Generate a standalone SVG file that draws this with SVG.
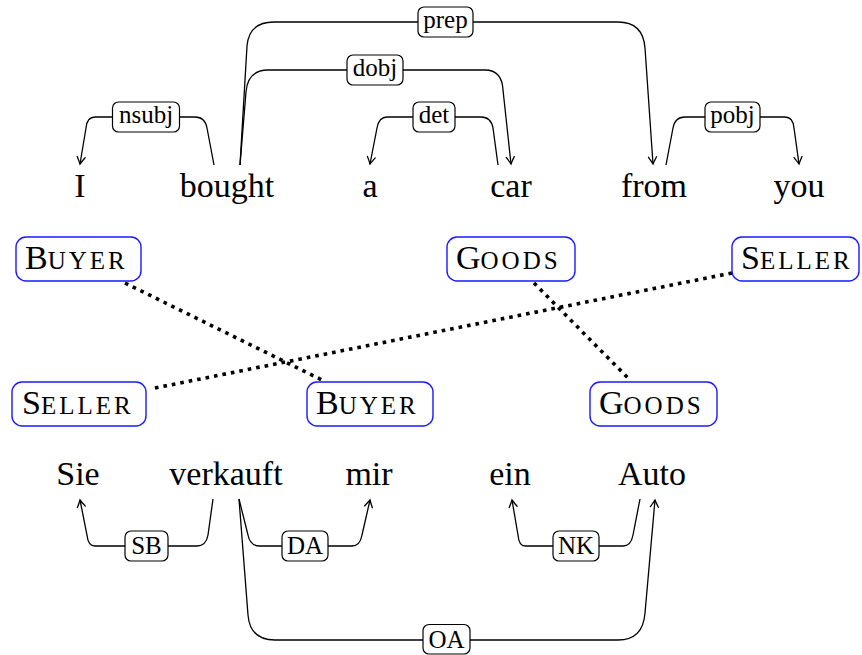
<svg xmlns="http://www.w3.org/2000/svg" width="862" height="655" viewBox="0 0 862 655">
<defs>
<marker id="arr" markerUnits="userSpaceOnUse" markerWidth="12" markerHeight="12" viewBox="-9 -6 12 12" refX="0" refY="0" orient="auto">
<path d="M -7,-4 Q -2,-1 0,0 Q -2,1 -7,4" fill="none" stroke="#000" stroke-width="1.3" stroke-linecap="round"/>
</marker>
</defs>
<style>
.w{font-family:"Liberation Serif","Times New Roman",serif;font-size:34px;fill:#000;text-anchor:middle}
.lb{font-family:"Liberation Serif","Times New Roman",serif;font-size:25px;fill:#000;text-anchor:middle}
.lbox{fill:#fff;stroke:#000;stroke-width:1.2}
.arc{fill:none;stroke:#000;stroke-width:1.3}
.ah{marker-end:url(#arr)}
.rbox{fill:#fff;stroke:#1a1aff;stroke-width:1.4}
.rt{font-family:"Liberation Serif","Times New Roman",serif;font-size:34px;fill:#000}
.sc{font-size:25px;letter-spacing:3px}
.dot{fill:none;stroke:#000;stroke-width:3.6;stroke-dasharray:3.6 5}
</style>

<g id="connectors">
<path class="arc ah" d="M214,165 L207,128 Q205,117 195,117 L95,117 Q87,117 86,128 L80,164"/>
<path class="arc ah" d="M498,165 L493,128 Q491,117 481,117 L387,117 Q379,117 377,128 L370,164"/>
<path class="arc ah" d="M240,165 L246,92 Q248,70 268,70 L485,70 Q502,70 503,90 L511,164"/>
<path class="arc ah" d="M240,165 L247,46 Q249,22 274,22 L618,22 Q643,22 645,48 L653,164"/>
<path class="arc ah" d="M666,165 L673,128 Q675,117 685,117 L785,117 Q793,117 794,128 L799,164"/>

<path class="arc ah" d="M213,499 L208,535 Q206,546 197,546 L95,546 Q88,546 87,535 L80,500"/>
<path class="arc ah" d="M239,499 L248,535 Q250,546 260,546 L352,546 Q360,546 362,535 L370,500"/>
<path class="arc ah" d="M239,499 L248,615 Q250,640 275,640 L618,640 Q643,640 645,613 L655,500"/>
<path class="arc ah" d="M640,499 L633,535 Q631,546 623,546 L525,546 Q519,546 518,535 L512,500"/>

<line class="dot" x1="125" y1="283" x2="322" y2="380"/>
<line class="dot" x1="534" y1="283" x2="630" y2="380"/>
<line class="dot" x1="732" y1="273" x2="150" y2="389"/>
</g>

<g id="lab-nsubj"><rect class="lbox" x="112.5" y="102" width="67" height="30" rx="6"/><text class="lb" x="146" y="123">nsubj</text></g>
<g id="lab-det"><rect class="lbox" x="413" y="102" width="42" height="30" rx="6"/><text class="lb" x="434" y="123">det</text></g>
<g id="lab-dobj"><rect class="lbox" x="347" y="55" width="56" height="30" rx="6"/><text class="lb" x="375" y="76">dobj</text></g>
<g id="lab-prep"><rect class="lbox" x="418" y="7" width="55" height="30" rx="6"/><text class="lb" x="445.5" y="28">prep</text></g>
<g id="lab-pobj"><rect class="lbox" x="705" y="102" width="55" height="30" rx="6"/><text class="lb" x="732.5" y="123">pobj</text></g>
<g id="lab-SB"><rect class="lbox" x="125" y="531" width="43" height="30" rx="6"/><text class="lb" x="146.5" y="554">SB</text></g>
<g id="lab-DA"><rect class="lbox" x="282" y="531" width="46" height="30" rx="6"/><text class="lb" x="305" y="554">DA</text></g>
<g id="lab-NK"><rect class="lbox" x="553" y="531" width="46" height="30" rx="6"/><text class="lb" x="576" y="554">NK</text></g>
<g id="lab-OA"><rect class="lbox" x="423" y="624.5" width="47" height="29.5" rx="6"/><text class="lb" x="446.5" y="647.5">OA</text></g>

<g id="w-I"><text class="w" x="80" y="197">I</text></g>
<g id="w-bought"><text class="w" x="227" y="197">bought</text></g>
<g id="w-a"><text class="w" x="370" y="197">a</text></g>
<g id="w-car"><text class="w" x="511" y="197">car</text></g>
<g id="w-from"><text class="w" x="654" y="197">from</text></g>
<g id="w-you"><text class="w" x="799" y="197">you</text></g>

<g id="w-Sie"><text class="w" x="78" y="485">Sie</text></g>
<g id="w-verkauft"><text class="w" x="226" y="485">verkauft</text></g>
<g id="w-mir"><text class="w" x="369" y="485">mir</text></g>
<g id="w-ein"><text class="w" x="510" y="485">ein</text></g>
<g id="w-Auto"><text class="w" x="652" y="485">Auto</text></g>

<g id="r-buyer-en"><rect class="rbox" x="16" y="237" width="125" height="44" rx="10"/><text class="rt" x="25" y="269">B<tspan class="sc">UYER</tspan></text></g>
<g id="r-goods-en"><rect class="rbox" x="447" y="237" width="128" height="44" rx="10"/><text class="rt" x="456" y="269">G<tspan class="sc">OODS</tspan></text></g>
<g id="r-seller-en"><rect class="rbox" x="732" y="237" width="127" height="44" rx="10"/><text class="rt" x="741" y="269">S<tspan class="sc">ELLER</tspan></text></g>
<g id="r-seller-de"><rect class="rbox" x="12" y="382" width="134" height="44" rx="10"/><text class="rt" x="22" y="414">S<tspan class="sc">ELLER</tspan></text></g>
<g id="r-buyer-de"><rect class="rbox" x="307" y="382" width="126" height="44" rx="10"/><text class="rt" x="316" y="414">B<tspan class="sc">UYER</tspan></text></g>
<g id="r-goods-de"><rect class="rbox" x="590" y="382" width="127" height="44" rx="10"/><text class="rt" x="599" y="414">G<tspan class="sc">OODS</tspan></text></g>
</svg>
